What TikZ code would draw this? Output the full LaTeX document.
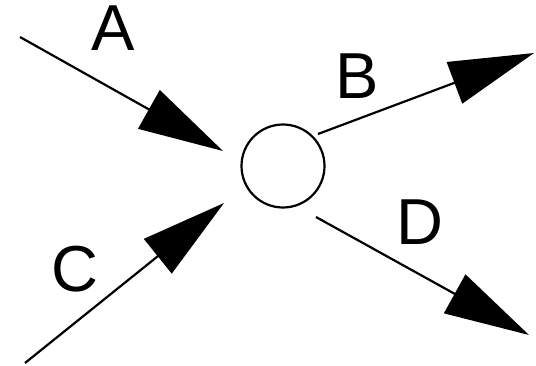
\documentclass[tikz,border=0pt]{standalone}
\usepackage{fontspec}
\setmainfont{Liberation Sans}
\usetikzlibrary{arrows.meta}
\tikzstyle{hub}=[circle,draw,line width=2.2pt,minimum size=83pt,inner sep=0pt]
\tikzstyle{flow}=[line width=2.2pt,-{Triangle[length=85pt,width=44pt]}]
\tikzstyle{tag}=[inner sep=0pt,font=\fontsize{65}{65}\selectfont]

\begin{document}
\begin{tikzpicture}[x=1pt,y=-1pt]
        \useasboundingbox (0,0) rectangle (536,365);
        \node at (283,166) [hub] (X) {};
        \coordinate (A0) at (20,37);
        \coordinate (A1) at (223,151);
        \coordinate (C0) at (25,363);
        \coordinate (C1) at (224,203);
        \coordinate (B0) at (318,134);
        \coordinate (B1) at (534,53);
        \coordinate (D0) at (316,217);
        \coordinate (D1) at (529,335);
        \node at (113,28) [tag] (A) {A};
        \node at (357,76) [tag] (B) {B};
        \node at (75,269) [tag] (C) {C};
        \node at (420,222) [tag] (D) {D};
        \draw [flow] (A0) to (A1);
        \draw [flow] (C0) to (C1);
        \draw [flow] (B0) to (B1);
        \draw [flow] (D0) to (D1);
      \end{tikzpicture}
\end{document}
